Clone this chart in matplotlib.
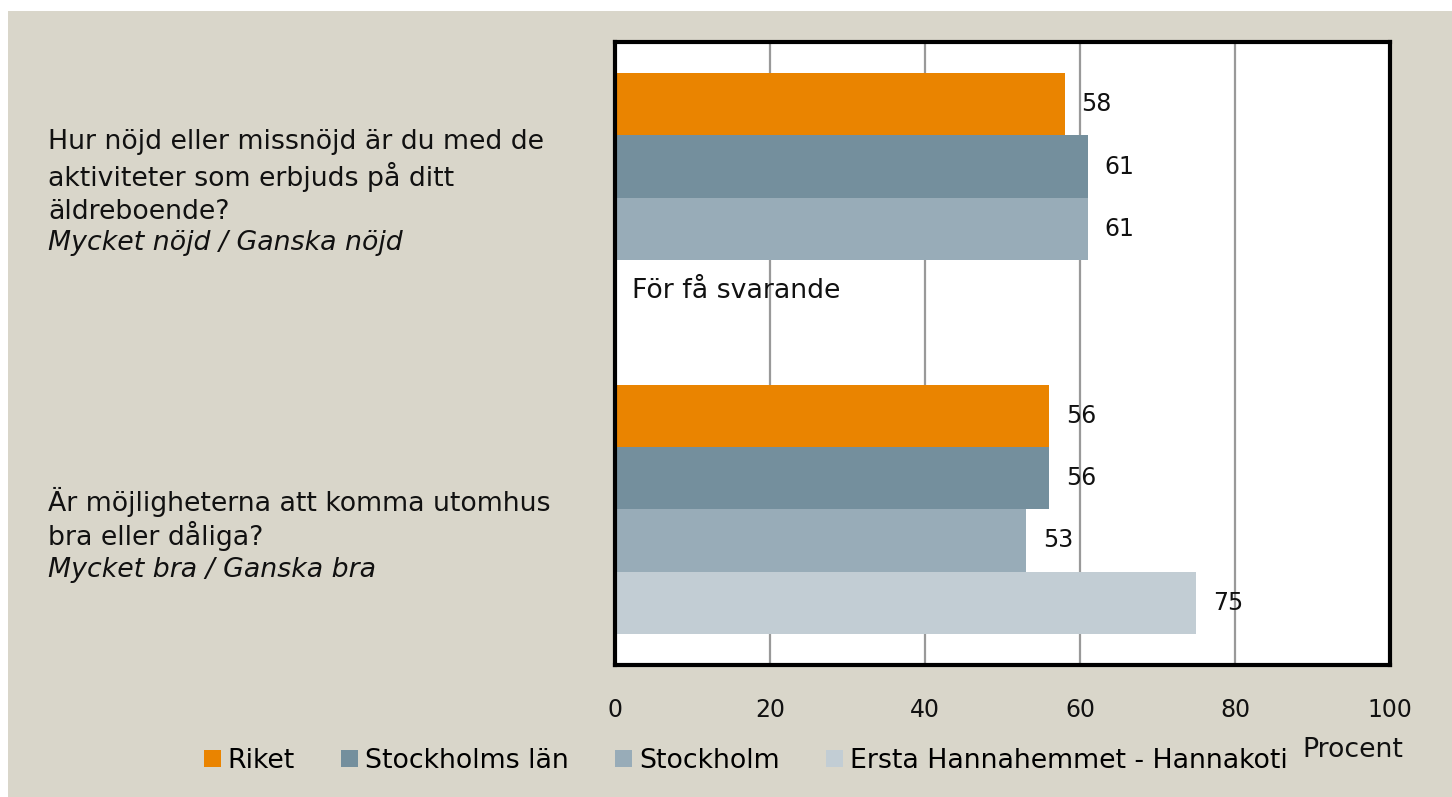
import matplotlib.pyplot as plt
from matplotlib.patches import Rectangle
import numpy as np

plt.rcParams['font.family'] = ['DejaVu Sans']

# data
questions = ['aktiviteter', 'utomhus']
series = ['Riket', 'Stockholms län', 'Stockholm', 'Ersta Hannahemmet - Hannakoti']
riket = [58, 56]
sthlm_lan = [61, 56]
sthlm = [61, 53]
ersta = [np.nan, 75]
values = [riket, sthlm_lan, sthlm, ersta]
colors = ['#EA8400', '#748F9D', '#98ACB8', '#C2CDD4']
ticks = [0, 20, 40, 60, 80, 100]

W, H = 1452, 797
fig = plt.figure(figsize=(W / 100, H / 100), dpi=100, facecolor='white')
fig.patches.append(Rectangle((8 / W, 0), 1, 1 - 11 / H, transform=fig.transFigure,
                             facecolor='#D9D6CA', edgecolor='none', zorder=-10))

ax = fig.add_axes([615 / W, 1 - 665 / H, 775 / W, 623 / H])
ax.set_facecolor('white')

bh = 0.2
y0 = np.arange(len(questions))
fs = 17      # numbers
fst = 19.3   # words
tc = '#111111'
for i, (vals, c) in enumerate(zip(values, colors)):
    ys = y0 - 0.3 + bh * i
    ax.barh(ys, vals, height=bh, color=c, label=series[i], zorder=2)
    for y, v in zip(ys, vals):
        if not np.isnan(v):
            ax.text(v + 2.2, y, '%d' % v, va='center', ha='left', fontsize=fs, color=tc, zorder=3)

# no data for Ersta on the first question
ax.text(2.2, y0[0] + 0.3, 'För få svarande', va='center', ha='left', fontsize=fst, color=tc)

ax.set_xlim(0, 100)
ax.set_ylim(1.5, -0.5)
ax.set_yticks([])
ax.set_xticks(ticks)
ax.set_xticklabels([str(t) for t in ticks], fontsize=fs, color=tc)
ax.tick_params(axis='x', length=0, pad=24)
ax.grid(axis='x', color='#999999', linewidth=1.6, zorder=0)
ax.set_axisbelow(True)
for s in ax.spines.values():
    s.set_linewidth(3)
    s.set_color('black')

# question texts on the left
qx = 48 / W
lines1 = ['Hur nöjd eller missnöjd är du med de', 'aktiviteter som erbjuds på ditt', 'äldreboende?']
for k, t in enumerate(lines1):
    fig.text(qx, 1 - (142 + 35 * k) / H, t, fontsize=fst, va='center', ha='left', color=tc)
fig.text(qx, 1 - 243 / H, 'Mycket nöjd / Ganska nöjd', fontsize=fst, va='center', ha='left',
         style='italic', color=tc)
lines2 = ['Är möjligheterna att komma utomhus', 'bra eller dåliga?']
for k, t in enumerate(lines2):
    fig.text(qx, 1 - (502 + 34 * k) / H, t, fontsize=fst, va='center', ha='left', color=tc)
fig.text(qx, 1 - 570 / H, 'Mycket bra / Ganska bra', fontsize=fst, va='center', ha='left',
         style='italic', color=tc)

fig.text(1302 / W, 1 - 750 / H, 'Procent', fontsize=fst, va='center', ha='left', color=tc)

handles, labels = ax.get_legend_handles_labels()
fig.legend(handles, labels, loc='center left', bbox_to_anchor=(204 / W, 1 - 761 / H), ncol=4,
           frameon=False, fontsize=fst, handlelength=0.62, handleheight=0.62, handletextpad=0.25,
           columnspacing=1.75, borderaxespad=0, borderpad=0)

fig.savefig('out.png', dpi=100, facecolor=fig.get_facecolor())
